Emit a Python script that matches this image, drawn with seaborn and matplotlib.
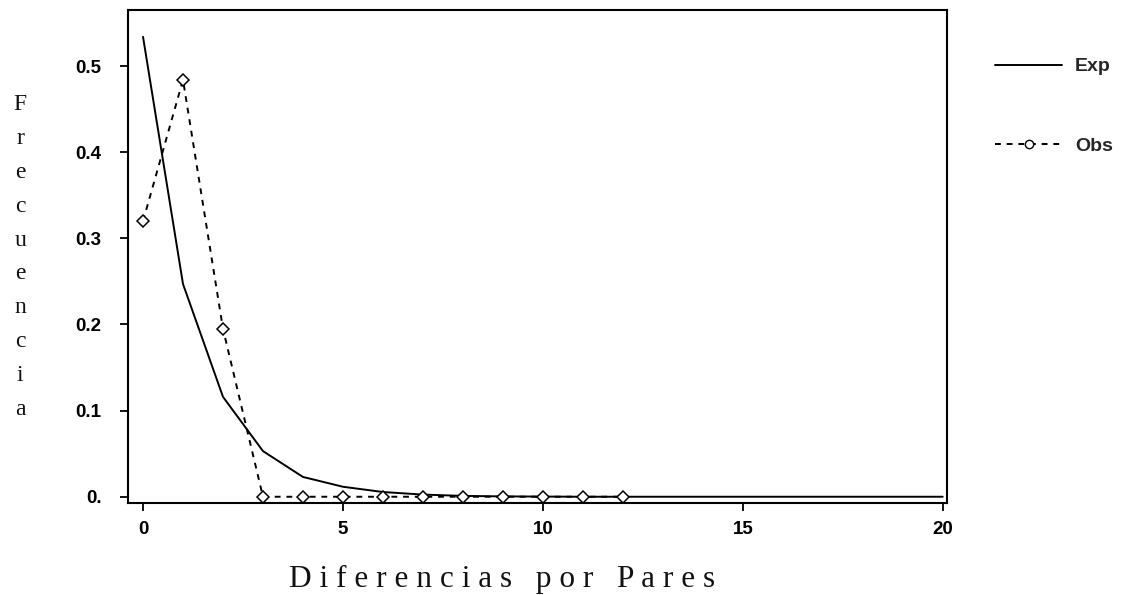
import numpy as np
import pandas as pd
import matplotlib
matplotlib.use("Agg")
import matplotlib.pyplot as plt
import seaborn as sns
from matplotlib.lines import Line2D

# Data
exp_x = [0, 1, 2, 3, 4, 5, 6, 7, 8, 9, 10, 11, 12, 13, 14, 15, 16, 17, 18, 19, 20]
exp_y = [0.534, 0.247, 0.116, 0.053, 0.023, 0.0116, 0.0055, 0.0025, 0.001, 0.0004,
         0.0002, 0, 0, 0, 0, 0, 0, 0, 0, 0, 0]
obs_x = [0, 1, 2, 3, 4, 5, 6, 7, 8, 9, 10, 11, 12]
obs_y = [0.320, 0.484, 0.195, 0, 0, 0, 0, 0, 0, 0, 0, 0, 0]
x_ticks = [0, 5, 10, 15, 20]
y_ticks = [0.0, 0.1, 0.2, 0.3, 0.4, 0.5]
y_tick_labels = ["0.", "0.1", "0.2", "0.3", "0.4", "0.5"]
x_label = "Diferencias por Pares"
y_label = "Frecuencia"

sns.set_theme(style="white")
plt.rcParams["font.family"] = ["Liberation Sans", "DejaVu Sans"]

fig = plt.figure(figsize=(11.23, 5.95), dpi=100)
ax = fig.add_axes([0.114, 0.155, 0.729, 0.828])

df_exp = pd.DataFrame({"x": exp_x, "y": exp_y})
df_obs = pd.DataFrame({"x": obs_x, "y": obs_y})

sns.lineplot(data=df_exp, x="x", y="y", ax=ax, color="black", linewidth=1.4)
sns.lineplot(data=df_obs, x="x", y="y", ax=ax, color="black", linewidth=1.4,
             linestyle=(0, (3, 3)), marker="D", markersize=6,
             markerfacecolor="white", markeredgecolor="black", markeredgewidth=1.1)

ax.set_xlim(-0.375, 20.1)
ax.set_ylim(-0.007, 0.565)
ax.set_xticks(x_ticks)
ax.set_yticks(y_ticks)
ax.set_yticklabels(y_tick_labels)
ax.set_xlabel("")
ax.set_ylabel("")
ax.tick_params(axis="both", which="both", direction="out", length=6, width=1.3,
               colors="black", labelsize=13.5, bottom=True, left=True)
ax.tick_params(axis="x", pad=7)
ax.tick_params(axis="y", pad=13)
for lab in ax.get_xticklabels() + ax.get_yticklabels():
    lab.set_fontweight("bold")
for sp in ax.spines.values():
    sp.set_visible(True)
    sp.set_color("black")
    sp.set_linewidth(1.5)

# Axis titles (spaced serif)
fig.text(0.447, 0.0134, " ".join(list(x_label)),
         ha="center", va="baseline", fontsize=22.5, family="Liberation Serif", color="#111111")
fig.text(0.018, 0.568, "\n".join(list(y_label)), ha="center", va="center",
         fontsize=17, family="Liberation Serif", color="#111111", linespacing=1.8)

# Legend outside
handles = [
    Line2D([0], [0], color="black", linewidth=1.4),
    Line2D([0], [0], color="black", linewidth=1.4, linestyle=(0, (3, 3)), marker="o",
           markersize=6, markerfacecolor="white", markeredgecolor="black"),
]
leg = fig.legend(handles, ["Exp", "Obs"], loc="upper left", bbox_to_anchor=(0.886, 0.903),
                 frameon=False, handlelength=3.45, handletextpad=0.67, labelspacing=3.2,
                 borderpad=0, borderaxespad=0,
                 prop={"weight": "bold", "size": 14})

fig.savefig("out.png", dpi=100)
